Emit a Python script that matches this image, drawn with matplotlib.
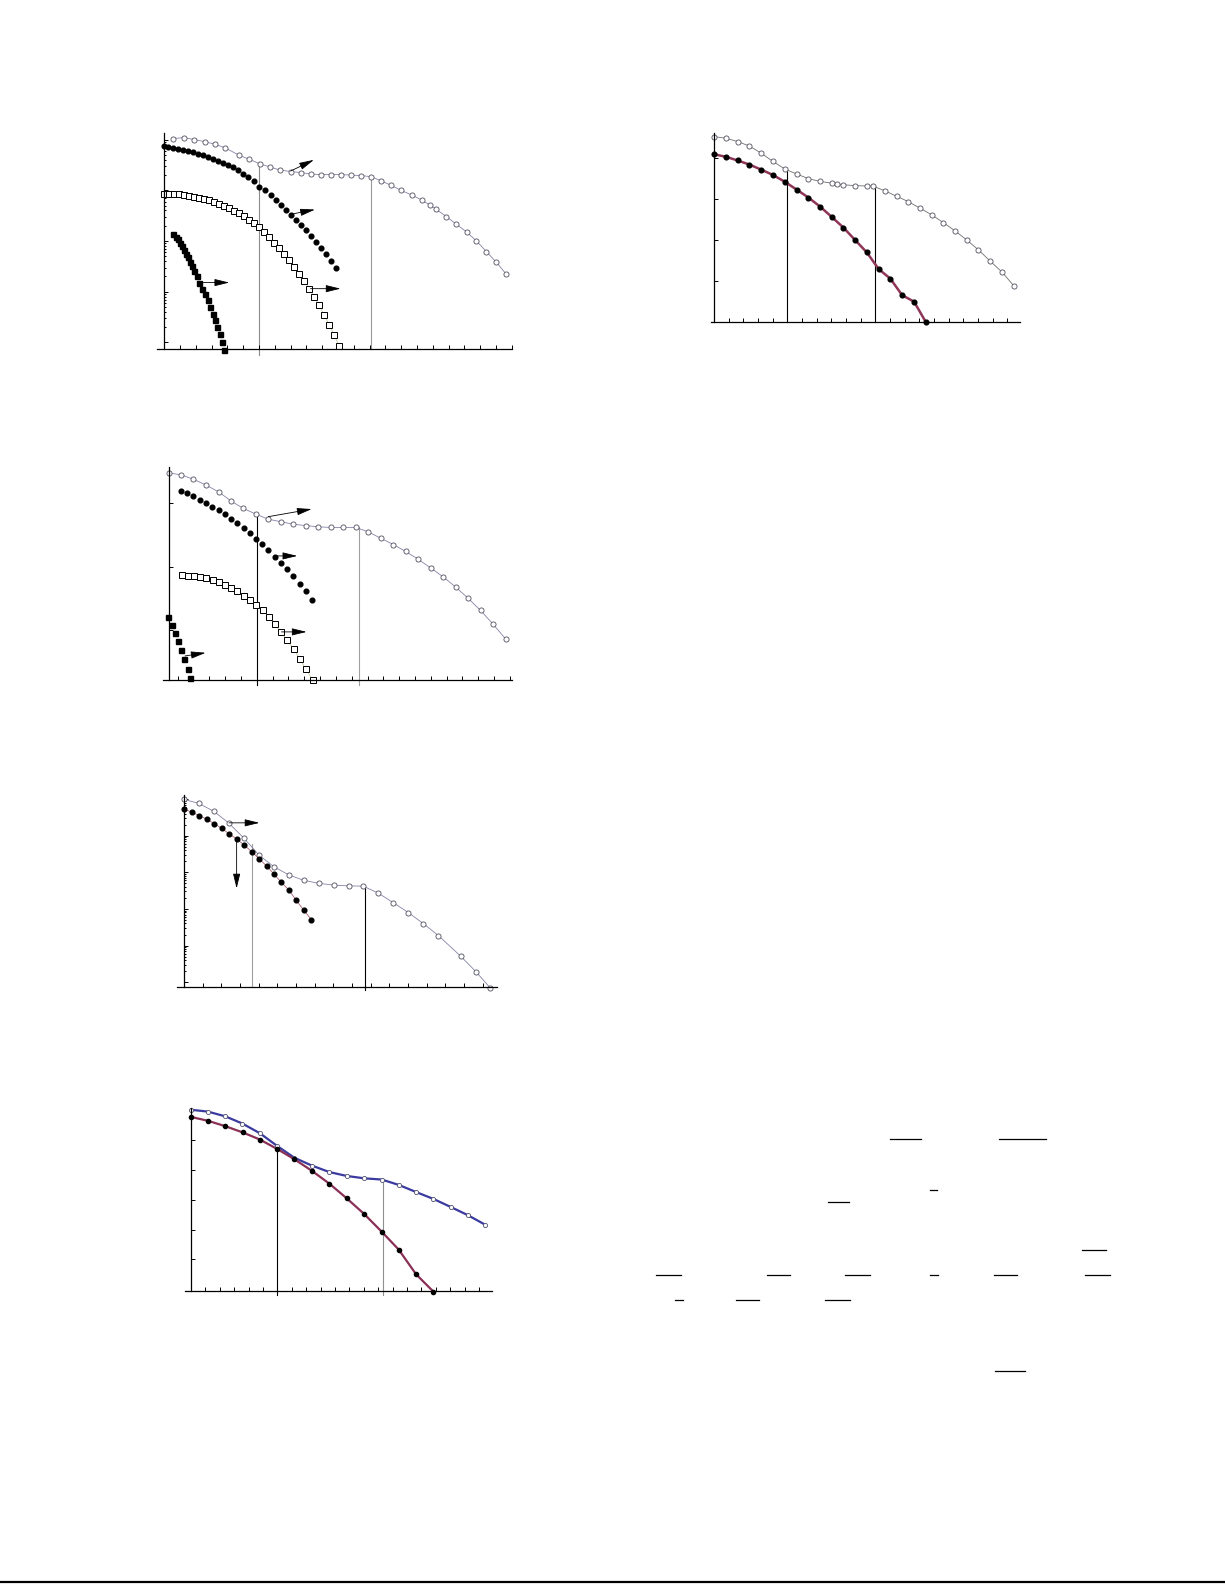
import numpy as np
import matplotlib
matplotlib.use("Agg")
import matplotlib.pyplot as plt

W, H = 1225, 1585

# ---------------- panel 1 (top left, log y in decades) ----------------
p1_circ_x = [0.57, 1.25, 1.90, 2.55, 3.19, 3.84, 4.75, 5.39, 6.06, 6.70, 7.32, 8.00, 8.65, 9.31,
             9.90, 10.53, 11.18, 11.82, 12.45, 13.08, 13.71, 14.35, 14.98, 15.66, 16.29, 16.82,
             17.20, 17.87, 18.50, 19.14, 19.77, 20.40, 21.03, 21.67]
p1_circ_y = [4.02, 4.04, 4.00, 3.96, 3.91, 3.84, 3.69, 3.61, 3.52, 3.46, 3.40, 3.37, 3.35, 3.32,
             3.31, 3.31, 3.31, 3.30, 3.29, 3.27, 3.19, 3.10, 3.00, 2.91, 2.81, 2.71,
             2.63, 2.48, 2.33, 2.18, 2.00, 1.79, 1.58, 1.34]
p1_dot_x = [0.0, 0.26, 0.57, 0.89, 1.20, 1.52, 1.84, 2.15, 2.47, 2.79, 3.10, 3.42, 3.74, 4.05,
            4.37, 4.69, 5.00, 5.32, 5.68, 6.02, 6.37, 6.73, 7.07, 7.38, 7.70, 8.02, 8.33, 8.65,
            8.97, 9.28, 9.60, 9.92, 10.23, 10.55, 10.87]
p1_dot_y = [3.87, 3.86, 3.84, 3.82, 3.80, 3.77, 3.75, 3.72, 3.69, 3.65, 3.62, 3.58, 3.54, 3.50,
            3.45, 3.40, 3.33, 3.27, 3.19, 3.07, 3.00, 2.91, 2.81, 2.71, 2.61, 2.51, 2.41, 2.31,
            2.22, 2.10, 1.99, 1.87, 1.74, 1.60, 1.46]
p1_sq_x = [0.0, 0.32, 0.64, 0.95, 1.27, 1.58, 1.90, 2.22, 2.53, 2.85, 3.17, 3.48, 3.80, 4.12,
           4.43, 4.75, 5.06, 5.38, 5.70, 6.01, 6.33, 6.65, 6.96, 7.28, 7.60, 7.91, 8.23, 8.55,
           8.86, 9.18, 9.49, 9.81, 10.13, 10.44, 10.76, 11.08]
p1_sq_y = [2.93, 2.93, 2.92, 2.92, 2.90, 2.89, 2.87, 2.85, 2.83, 2.80, 2.77, 2.73, 2.69, 2.65,
           2.60, 2.55, 2.49, 2.42, 2.35, 2.27, 2.17, 2.08, 1.97, 1.87, 1.75, 1.62, 1.49, 1.35,
           1.21, 1.06, 0.90, 0.73, 0.54, 0.35, 0.14, -0.07]
p1_fsq_x = [0.57, 0.72, 0.85, 0.97, 1.10, 1.23, 1.37, 1.50, 1.63, 1.77, 1.90, 2.05, 2.20, 2.41,
            2.58, 2.74, 2.89, 3.06, 3.21, 3.36, 3.53, 3.68, 3.80]
p1_fsq_y = [2.14, 2.08, 2.03, 1.97, 1.90, 1.83, 1.75, 1.68, 1.59, 1.51, 1.41, 1.31, 1.18, 1.06,
            0.95, 0.83, 0.70, 0.57, 0.44, 0.31, 0.16, 0.01, -0.14]

# ---------------- panel 2 (top right) ----------------
p2_circ_x = [0.0, 0.80, 1.61, 2.41, 3.20, 4.00, 4.84, 5.64, 6.43, 7.23, 8.02, 8.41, 8.82, 9.61,
             10.41, 10.82, 11.66, 12.45, 13.25, 14.05, 14.84, 15.64, 16.43, 17.23, 18.02, 18.82,
             19.66, 20.45]
p2_circ_y = [4.51, 4.47, 4.39, 4.28, 4.11, 3.91, 3.72, 3.60, 3.49, 3.42, 3.38, 3.36, 3.34, 3.32,
             3.31, 3.31, 3.19, 3.06, 2.93, 2.77, 2.61, 2.42, 2.22, 2.00, 1.76, 1.49, 1.21, 0.88]
p2_dot_x = [0.0, 0.80, 1.61, 2.41, 3.20, 4.00, 4.84, 5.64, 6.43, 7.23, 8.02, 8.82, 9.61, 10.41,
            11.23, 12.02, 12.82, 13.64, 14.43]
p2_dot_y = [4.08, 4.02, 3.93, 3.83, 3.71, 3.58, 3.41, 3.22, 3.03, 2.81, 2.56, 2.30, 2.00, 1.70,
            1.29, 1.06, 0.66, 0.50, 0.01]

# ---------------- panel 3 (second left) ----------------
p3_circ_x = [0.0, 0.76, 1.52, 2.32, 3.12, 3.89, 4.67, 5.47, 6.25, 7.05, 7.83, 8.61, 9.41, 10.19,
             10.99, 11.77, 12.57, 13.35, 14.15, 14.93, 15.71, 16.51, 17.30, 18.08, 18.88, 19.66,
             20.46, 21.24]
p3_circ_y = [3.48, 3.45, 3.38, 3.29, 3.18, 3.04, 2.92, 2.83, 2.75, 2.71, 2.67, 2.65, 2.63, 2.62,
             2.62, 2.62, 2.55, 2.45, 2.35, 2.24, 2.12, 1.98, 1.84, 1.68, 1.50, 1.31, 1.09, 0.86]
p3_dot_x = [0.72, 1.14, 1.52, 1.94, 2.32, 2.72, 3.12, 3.52, 3.89, 4.29, 4.69, 5.09, 5.47, 5.87,
            6.25, 6.65, 7.05, 7.43, 7.83, 8.23, 8.63, 9.01]
p3_dot_y = [3.19, 3.16, 3.11, 3.05, 3.00, 2.95, 2.89, 2.83, 2.76, 2.69, 2.61, 2.53, 2.44, 2.36,
            2.26, 2.16, 2.06, 1.96, 1.85, 1.73, 1.61, 1.47]
p3_sq_x = [0.78, 1.16, 1.54, 1.92, 2.34, 2.74, 3.14, 3.52, 3.89, 4.29, 4.69, 5.09, 5.47, 5.92,
           6.29, 6.67, 7.05, 7.45, 7.85, 8.25, 8.63, 9.05]
p3_sq_y = [1.87, 1.85, 1.85, 1.84, 1.82, 1.79, 1.76, 1.71, 1.66, 1.61, 1.54, 1.47, 1.39, 1.31,
           1.21, 1.09, 0.97, 0.84, 0.70, 0.54, 0.38, 0.21]
p3_fsq_x = [-0.06, 0.17, 0.36, 0.57, 0.76, 0.95, 1.16, 1.33]
p3_fsq_y = [1.20, 1.08, 0.95, 0.82, 0.68, 0.54, 0.39, 0.24]

# ---------------- panel 4 (third left, log y in decades) ----------------
p4_circ_x = [0.0, 0.80, 1.61, 2.41, 3.21, 4.02, 4.82, 5.61, 6.41, 7.21, 8.02, 8.82, 9.61, 10.41,
             11.21, 12.02, 12.82, 13.63, 14.82, 15.63, 16.41]
p4_circ_y = [4.99, 4.88, 4.66, 4.34, 3.93, 3.47, 3.15, 2.93, 2.78, 2.70, 2.65, 2.63, 2.62, 2.43,
             2.17, 1.90, 1.60, 1.27, 0.71, 0.29, -0.16]
p4_dot_x = [0.0, 0.41, 0.82, 1.21, 1.61, 2.02, 2.41, 2.82, 3.21, 3.63, 4.02, 4.43, 4.82, 5.21,
            5.63, 6.02, 6.41, 6.82]
p4_dot_y = [4.73, 4.64, 4.55, 4.45, 4.33, 4.20, 4.05, 3.91, 3.75, 3.56, 3.37, 3.17, 2.95, 2.73,
            2.51, 2.23, 1.97, 1.71]

# ---------------- panel 5 (bottom left) ----------------
p5_circ_x = [0.0, 1.16, 2.38, 3.56, 4.79, 6.00, 7.18, 8.38, 9.61, 10.81, 12.04, 13.24, 14.42,
             15.63, 16.83, 18.03, 19.24, 20.44]
p5_circ_y = [6.02, 5.96, 5.80, 5.56, 5.23, 4.80, 4.41, 4.15, 3.93, 3.80, 3.72, 3.68, 3.50, 3.26,
             3.03, 2.76, 2.48, 2.16]
p5_dot_x = [0.0, 1.18, 2.38, 3.59, 4.79, 6.00, 7.18, 8.40, 9.61, 10.81, 12.01, 13.24, 14.42,
            15.63, 16.83]
p5_dot_y = [5.78, 5.65, 5.47, 5.26, 5.02, 4.70, 4.36, 3.97, 3.54, 3.05, 2.53, 1.93, 1.33, 0.50,
            -0.08]

# fraction bars of the (blank) equation block, page pixels: x0, x1, y
frac_bars = [(890, 921, 1139), (999, 1046, 1139), (930, 937, 1190), (828, 849, 1202),
             (1082, 1106, 1250), (656, 681, 1275), (767, 790, 1275), (845, 870, 1275),
             (930, 938, 1275), (994, 1017, 1275), (1085, 1110, 1275), (675, 683, 1300),
             (736, 759, 1300), (825, 850, 1300), (995, 1025, 1371)]

CIRC = dict(marker="o", ms=3.7, mfc="white", mec="#505060", mew=0.6, color="#8484a8", lw=0.6)
DOT = dict(marker="o", ms=3.4, mfc="black", mec="black", ls="none")
SQ = dict(marker="s", ms=3.8, mfc="white", mec="black", mew=0.7, color="#c0c090", lw=0.5)
FSQ = dict(marker="s", ms=3.6, mfc="black", mec="black", ls="none")
ARROW = dict(arrowstyle="-|>,head_length=0.9,head_width=0.22", color="black", lw=0.6,
             shrinkA=0, shrinkB=0)

fig = plt.figure(figsize=(W / 100, H / 100), dpi=100)


def make_axes(left, right, top, bottom, xlim, ylim, xticks, yticks, yminor=None):
    ax = fig.add_axes([left / W, 1 - bottom / H, (right - left) / W, (bottom - top) / H])
    ax.set_xticks(xticks)
    ax.set_yticks(yticks)
    if yminor is not None:
        ax.set_yticks(yminor, minor=True)
    # limits after the ticks, so the ticks cannot widen them
    ax.set_xlim(*xlim)
    ax.set_ylim(*ylim)
    ax.patch.set_alpha(0)
    for s in ("top", "right"):
        ax.spines[s].set_visible(False)
    ax.spines["left"].set_position(("data", 0))
    for s in ("left", "bottom"):
        ax.spines[s].set_linewidth(0.9)
    ax.tick_params(which="both", direction="in", labelbottom=False, labelleft=False,
                   width=0.7, color="black")
    ax.tick_params(which="major", length=3)
    ax.tick_params(which="minor", length=1.6)
    return ax


def log_minor(lo, hi):
    return [k + np.log10(m) for k in range(lo, hi) for m in range(2, 10)]


def vline(ax, x, y0, y1, color="black"):
    ax.plot([x, x], [y0, y1], color=color, lw=0.8, clip_on=False, zorder=1)


def arrow(ax, x0, y0, x1, y1):
    ax.annotate("", xy=(x1, y1), xytext=(x0, y0), arrowprops=ARROW, annotation_clip=False)


# panel 1
ax = make_axes(157, 511.7, 133, 349, (-0.46, 22.0), (-0.13, 4.13),
               range(0, 23), range(0, 5), log_minor(0, 4))
vline(ax, 6.0, -0.25, 3.55, "#8c8c8c")
vline(ax, 13.08, -0.13, 3.27, "#9a9a9a")
ax.plot(p1_circ_x, p1_circ_y, clip_on=False, **CIRC)
ax.plot(p1_dot_x, p1_dot_y, clip_on=False, **DOT)
ax.plot(p1_sq_x, p1_sq_y, clip_on=False, **SQ)
ax.plot(p1_fsq_x, p1_fsq_y, clip_on=False, **FSQ)
arrow(ax, 8.00, 3.38, 9.47, 3.60)
arrow(ax, 8.06, 2.53, 9.54, 2.62)
arrow(ax, 9.26, 1.06, 11.16, 1.06)
arrow(ax, 2.32, 1.18, 4.11, 1.18)

# panel 2
ax = make_axes(710.7, 1020, 133.3, 322.3, (-0.23, 20.86), (0, 4.59),
               range(0, 21), range(1, 5))
vline(ax, 5.0, 0, 3.72)
vline(ax, 11.0, 0, 3.31)
ax.plot(p2_circ_x, p2_circ_y, clip_on=False, **dict(CIRC, color="#707070"))
ax.plot(p2_dot_x, p2_dot_y, color="#8e3558", lw=1.8, zorder=2, clip_on=False)
ax.plot(p2_dot_x, p2_dot_y, clip_on=False, zorder=3, **DOT)

# panel 3
ax = make_axes(162.7, 511.7, 467.3, 680, (-0.42, 21.63), (0.21, 3.57),
               np.arange(0.52, 21.6, 1.0), [1, 2, 3])
vline(ax, 5.52, 0.13, 2.83)
vline(ax, 11.96, 0.13, 2.62, "#a0a0a0")
ax.plot(p3_circ_x, p3_circ_y, clip_on=False, **CIRC)
ax.plot(p3_dot_x, p3_dot_y, clip_on=False, **DOT)
ax.plot(p3_sq_x, p3_sq_y, clip_on=False, **SQ)
ax.plot(p3_fsq_x, p3_fsq_y, clip_on=False, **FSQ)
arrow(ax, 6.25, 2.79, 8.99, 2.91)
arrow(ax, 6.78, 2.17, 8.08, 2.17)
arrow(ax, 7.09, 0.97, 8.67, 0.97)
arrow(ax, 0.99, 0.59, 2.29, 0.64)

# panel 4
ax = make_axes(176.7, 496.7, 795, 987.3, (-0.39, 16.75), (-0.14, 5.11),
               range(0, 17), range(0, 6), log_minor(0, 5))
vline(ax, 3.65, -0.14, 3.76, "#a0a0a0")
vline(ax, 9.70, -0.22, 2.62)
ax.plot(p4_circ_x, p4_circ_y, clip_on=False, **CIRC)
ax.plot(p4_dot_x, p4_dot_y, color="#b06070", lw=0.6, clip_on=False)
ax.plot(p4_dot_x, p4_dot_y, clip_on=False, **DOT)
arrow(ax, 2.41, 4.35, 4.04, 4.35)
arrow(ax, 2.82, 3.93, 2.82, 2.56)

# panel 5
ax = make_axes(185, 491.7, 1108.3, 1291, (-0.42, 20.88), (-0.06, 6.07),
               range(0, 21), range(1, 6))
vline(ax, 6.0, -0.2, 4.72)
vline(ax, 13.31, -0.2, 3.68, "#909090")
ax.plot(p5_circ_x, p5_circ_y, color="#3a3aa0", lw=1.6, clip_on=False)
ax.plot(p5_dot_x, p5_dot_y, color="#8a2f55", lw=1.6, clip_on=False)
ax.plot(p5_circ_x, p5_circ_y, ls="none", marker="o", ms=3.0, mfc="white", mec="#505070",
        mew=0.6, clip_on=False)
ax.plot(p5_dot_x, p5_dot_y, clip_on=False, **dict(DOT, ms=3.0))

# page overlay: equation fraction bars and bottom rule
page = fig.add_axes([0, 0, 1, 1])
page.set_xlim(0, W)
page.set_ylim(H, 0)
page.axis("off")
page.patch.set_alpha(0)
for x0, x1, y in frac_bars:
    page.plot([x0, x1], [y, y], color="black", lw=0.9)
page.plot([0, W], [1582, 1582], color="black", lw=1.6)

fig.savefig("out.png", dpi=100)
